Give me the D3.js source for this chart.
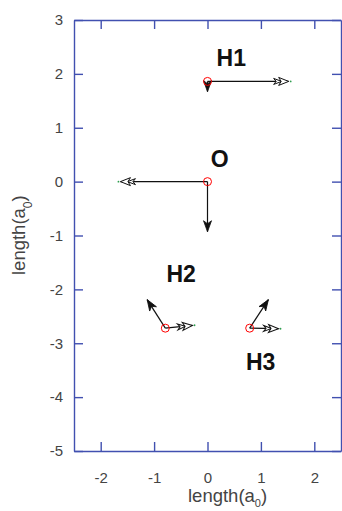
<!DOCTYPE html>
<html>
<head>
<meta charset="utf-8">
<script src="https://cdn.jsdelivr.net/npm/d3@7"></script>
<style>
  html, body { margin: 0; padding: 0; background: #fff; }
  svg { display: block; }
</style>
</head>
<body>
<script>
// atoms (positions in a0)
const atomNames = ['O', 'H1', 'H2', 'H3']
const atomX = [0, 0, -0.79, 0.79]
const atomY = [0, 1.86, -2.72, -2.72]

// first vector set (filled heads)
const vecAU = [0, 0, -0.34, 0.35]
const vecAV = [-0.93, -0.19, 0.53, 0.53]

// second vector set (open heads)
const vecBU = [-1.63, 1.52, 0.51, 0.54]
const vecBV = [0, 0, 0.05, -0.01]

// label anchors
const labelX = [0.06, 0.17, -0.77, 0.72]
const labelY = [0.28, 2.15, -1.86, -3.49]

const xTicks = [-2, -1, 0, 1, 2]
const yTicks = [3, 2, 1, 0, -1, -2, -3, -4, -5]

const width = 342
const height = 511
const font = 'Liberation Sans, Arial, Helvetica, sans-serif'
const axisColor = '#4150b0'
const tickTextColor = '#444'

const svg = d3.select('body').append('svg')
  .attr('width', width)
  .attr('height', height)

const x = d3.scaleLinear().domain([-2.5, 2.5]).range([74, 341])
const y = d3.scaleLinear().domain([-5, 3]).range([451, 20])

// plain hyphen for negatives, like the original
const fmt = d => String(d)

// axes: ticks pointing inward on all four sides
svg.append('g')
  .attr('transform', `translate(0, ${y(-5)})`)
  .call(d3.axisBottom(x).tickValues(xTicks).tickSizeInner(-9).tickSizeOuter(0).tickPadding(21).tickFormat(fmt))
svg.append('g')
  .attr('transform', `translate(0, ${y(3)})`)
  .call(d3.axisTop(x).tickValues(xTicks).tickSizeInner(-9).tickSizeOuter(0).tickFormat(''))
svg.append('g')
  .attr('transform', `translate(${x(-2.5)}, 0)`)
  .call(d3.axisLeft(y).tickValues(yTicks).tickSizeInner(-9).tickSizeOuter(0).tickPadding(11).tickFormat(fmt))
svg.append('g')
  .attr('transform', `translate(${x(2.5)}, 0)`)
  .call(d3.axisRight(y).tickValues(yTicks).tickSizeInner(-9).tickSizeOuter(0).tickFormat(''))

svg.selectAll('.domain, .tick line')
  .attr('stroke', axisColor)
  .attr('stroke-width', 1.4)
svg.selectAll('.tick text')
  .attr('font-family', font)
  .attr('font-size', 15)
  .attr('fill', tickTextColor)

// axis labels
const xLab = svg.append('text')
  .attr('x', 188)
  .attr('y', 502)
  .attr('font-family', font)
  .attr('font-size', 18.5)
  .attr('fill', tickTextColor)
xLab.append('tspan').text('length(a')
xLab.append('tspan').attr('font-size', 11).attr('dy', 5).text('0')
xLab.append('tspan').attr('dy', -5).text(')')

const yLab = svg.append('text')
  .attr('transform', 'translate(25, 275) rotate(-90)')
  .attr('font-family', font)
  .attr('font-size', 18.5)
  .attr('fill', tickTextColor)
yLab.append('tspan').text('length(a')
yLab.append('tspan').attr('font-size', 12).attr('dy', 7).text('0')
yLab.append('tspan').attr('dy', -7).text(')')

// arrows
const atoms = atomNames.map((name, i) => ({
  name, x: atomX[i], y: atomY[i],
  au: vecAU[i], av: vecAV[i], bu: vecBU[i], bv: vecBV[i],
  lx: labelX[i], ly: labelY[i]
}))

function drawArrows(key, headFn, dotColor) {
  const g = svg.append('g')
  atoms.forEach(d => {
    const x0 = x(d.x), y0 = y(d.y)
    const x1 = x(d.x + d[key + 'u']), y1 = y(d.y + d[key + 'v'])
    const ang = Math.atan2(y1 - y0, x1 - x0) * 180 / Math.PI
    g.append('line')
      .attr('x1', x0).attr('y1', y0)
      .attr('x2', x1).attr('y2', y1)
      .attr('stroke', '#111')
      .attr('stroke-width', 1.2)
    const head = g.append('g')
      .attr('transform', `translate(${x1}, ${y1}) rotate(${ang})`)
    headFn(head)
    if (dotColor && Math.hypot(x1 - x0, y1 - y0) > 20) {
      g.append('circle')
        .attr('cx', x1 + 2 * Math.cos(ang * Math.PI / 180))
        .attr('cy', y1 + 2 * Math.sin(ang * Math.PI / 180))
        .attr('r', 0.9)
        .attr('fill', dotColor)
    }
  })
}

drawArrows('a', h => {
  h.append('path')
    .attr('d', 'M0,0 L-11,-4 L-8,0 L-11,4 Z')
    .attr('fill', '#111')
    .attr('stroke', '#111')
    .attr('stroke-width', 0.8)
}, null)

drawArrows('b', h => {
  h.append('path')
    .attr('d', 'M-7,0 L-15,-3 L-12.5,0 L-15,3 Z')
    .attr('fill', '#fff')
    .attr('stroke', '#111')
    .attr('stroke-width', 1)
  h.append('path')
    .attr('d', 'M0,0 L-10,-4 L-7.5,0 L-10,4 Z')
    .attr('fill', '#fff')
    .attr('stroke', '#111')
    .attr('stroke-width', 1)
}, '#2e9e4f')

// atom markers
svg.append('g')
  .selectAll('circle')
  .data(atoms)
  .join('circle')
  .attr('cx', d => x(d.x))
  .attr('cy', d => y(d.y))
  .attr('r', 4)
  .attr('fill', 'none')
  .attr('stroke', '#f00')
  .attr('stroke-width', 1)

// atom labels
svg.append('g')
  .selectAll('text')
  .data(atoms)
  .join('text')
  .attr('x', d => x(d.lx))
  .attr('y', d => y(d.ly))
  .attr('font-family', font)
  .attr('font-size', 23)
  .attr('font-weight', 'bold')
  .attr('fill', '#111')
  .text(d => d.name)
</script>
</body>
</html>
